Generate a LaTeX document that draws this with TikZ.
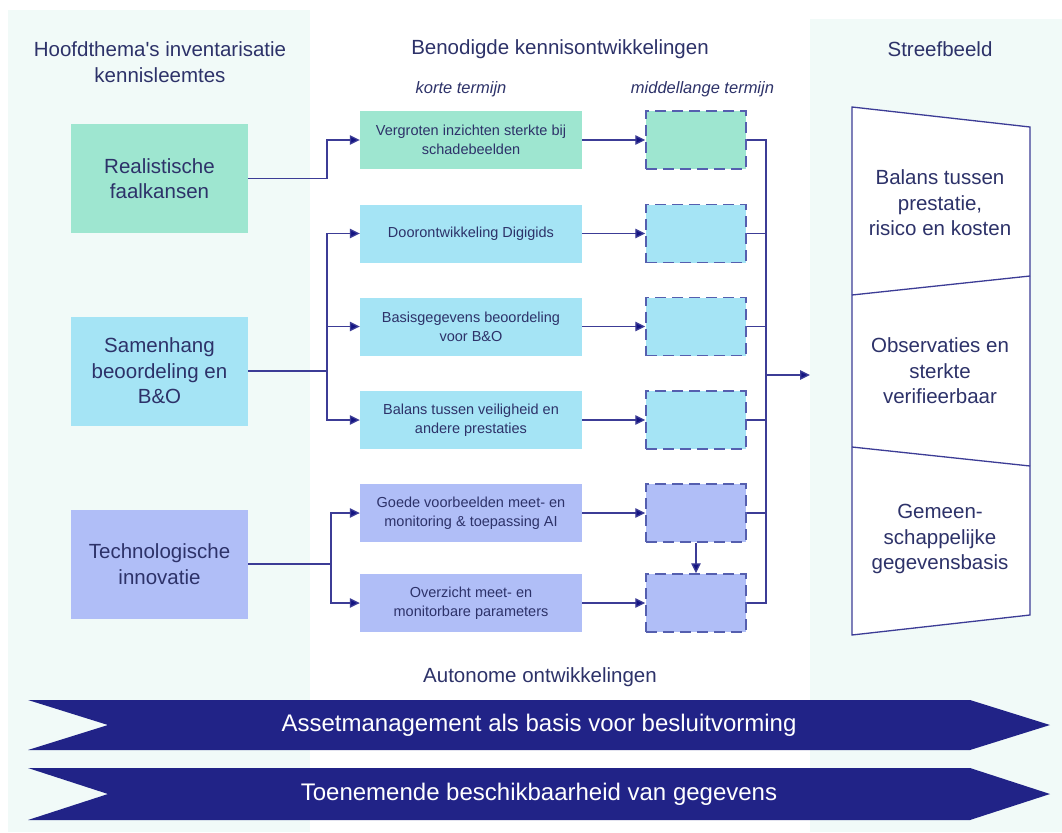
\documentclass[tikz,border=0pt]{standalone}
\usepackage{fontspec}
\setmainfont{Liberation Sans}
\newfontfamily\plainfont{Liberation Sans}
\usetikzlibrary{arrows.meta,calc}
\definecolor{panel}{RGB}{241,250,248}
\definecolor{cgreen}{RGB}{158,230,208}
\definecolor{ccyan}{RGB}{165,228,245}
\definecolor{cblue}{RGB}{176,190,247}
\definecolor{txt}{RGB}{45,50,105}
\definecolor{ln}{RGB}{60,60,150}
\definecolor{tipc}{RGB}{20,20,130}
\definecolor{band}{RGB}{33,35,135}
\definecolor{dashc}{RGB}{85,95,175}
\begin{document}
\begin{tikzpicture}[x=1pt,y=-1pt,
  big/.style={font=\fontsize{20.5}{25.5}\selectfont, text=txt, align=center, inner sep=0pt},
  hdr/.style={big},
  sub/.style={font=\fontsize{16.5}{20}\selectfont\itshape, text=txt, inner sep=0pt},
  theme/.style={big, minimum width=177pt, minimum height=109pt},
  shortbox/.style={font=\fontsize{14.5}{19}\selectfont, text=txt, align=center, minimum width=222pt, minimum height=58pt, inner sep=0pt},
  midbox/.style={draw=dashc, line width=1.5pt, dash pattern=on 11pt off 6pt, minimum width=100pt, minimum height=58pt, inner sep=0pt},
  conn/.style={draw=ln, line width=1.3pt},
  arr/.style={conn, -{Triangle[length=10pt,width=9.5pt,fill=tipc]}},
  goalline/.style={draw=ln, line width=1.3pt},
  bandtxt/.style={font=\fontsize{24}{28}\selectfont, text=white, inner sep=0pt}
]
\useasboundingbox (0,0) rectangle (1062,832);
\fill[white] (0,0) rectangle (1062,832);
% panels
\fill[panel] (8,10) rectangle (310,832);
\fill[panel] (810,19) rectangle (1062,832);

% headers
\node[hdr] (h1) at (160,62) {Hoofdthema{\plainfont\fontsize{20.5}{25.5}\selectfont'}s inventarisatie\\kennisleemtes};
\node[hdr] (h2) at (560,49) {Benodigde kennisontwikkelingen};
\node[hdr] (h3) at (940,49) {Streefbeeld};
\node[sub] (k1) at (461,89) {korte termijn};
\node[sub] (k2) at (702.5,89) {middellange termijn};

% themes
\node[theme, fill=cgreen] (t1) at (159.5,178.5) {Realistische\\faalkansen};
\node[theme, fill=ccyan] (t2) at (159.5,371) {Samenhang\\beoordeling en\\B\&O};
\node[theme, fill=cblue] (t3) at (159.5,564) {Technologische\\innovatie};

% short-term boxes
\node[shortbox, fill=cgreen] (s1) at (471,140) {Vergroten inzichten sterkte bij\\schadebeelden};
\node[shortbox, fill=ccyan] (s2) at (471,233.5) {Doorontwikkeling Digigids};
\node[shortbox, fill=ccyan] (s3) at (471,326.5) {Basisgegevens beoordeling\\voor B\&O};
\node[shortbox, fill=ccyan] (s4) at (471,420) {Balans tussen veiligheid en\\andere prestaties};
\node[shortbox, fill=cblue] (s5) at (471,513) {Goede voorbeelden meet- en\\monitoring \& toepassing AI};
\node[shortbox, fill=cblue] (s6) at (471,603) {Overzicht meet- en\\monitorbare parameters};

% medium-term boxes
\node[midbox, fill=cgreen] (m1) at (696,140) {};
\node[midbox, fill=ccyan] (m2) at (696,233.5) {};
\node[midbox, fill=ccyan] (m3) at (696,326.5) {};
\node[midbox, fill=ccyan] (m4) at (696,420) {};
\node[midbox, fill=cblue] (m5) at (696,513) {};
\node[midbox, fill=cblue] (m6) at (696,603) {};

% junction columns
\coordinate (j1) at (327,0);
\coordinate (j2) at (331,0);
\coordinate (jr) at (766,375);
\coordinate (goal) at (810,375);

% theme -> short
\draw[arr] (t1.east) -- (t1.east -| j1) |- (s1.west);
\draw[conn] (t2.east) -- (t2.east -| j1);
\draw[arr] (t2.east -| j1) |- (s2.west);
\draw[arr] (t2.east -| j1) |- (s3.west);
\draw[arr] (t2.east -| j1) |- (s4.west);
\draw[conn] (t3.east) -- (t3.east -| j2);
\draw[arr] (t3.east -| j2) |- (s5.west);
\draw[arr] (t3.east -| j2) |- (s6.west);

% short -> medium
\foreach \i in {1,...,6}{\draw[arr] (s\i.east) -- (m\i.west);}
\draw[arr] (m5.south) -- (m6.north);

% medium -> goal
\draw[conn] (m1.east) -| (jr);
\draw[conn] (m6.east) -| (jr);
\foreach \i in {2,...,5}{\draw[conn] (m\i.east) -- (m\i.east -| jr);}
\draw[arr] (jr) -- (goal);

% goal trapezoid
\draw[goalline, fill=white] (852,107) -- (1030,127) -- (1030,615) -- (852,635) -- cycle;
\draw[goalline] (852,295) -- (1030,276);
\draw[goalline] (852,447) -- (1030,466);
\node[big] (g1) at (940,203) {Balans tussen\\prestatie,\\risico en kosten};
\node[big] (g2) at (940,371) {Observaties en\\sterkte\\verifieerbaar};
\node[big] (g3) at (940,539) {Gemeen-\\schappelijke\\gegevensbasis};

% autonomous developments
\node[big] (au) at (540,677) {Autonome ontwikkelingen};
\fill[band] (28,700) -- (970,700) -- (1050,725) -- (970,750) -- (28,750) -- (108,725) -- cycle;
\node[bandtxt] (b1) at (539,725) {Assetmanagement als basis voor besluitvorming};
\fill[band] (28,768) -- (970,768) -- (1050,794) -- (970,820) -- (28,820) -- (108,794) -- cycle;
\node[bandtxt] (b2) at (539,794) {Toenemende beschikbaarheid van gegevens};
\end{tikzpicture}
\end{document}
